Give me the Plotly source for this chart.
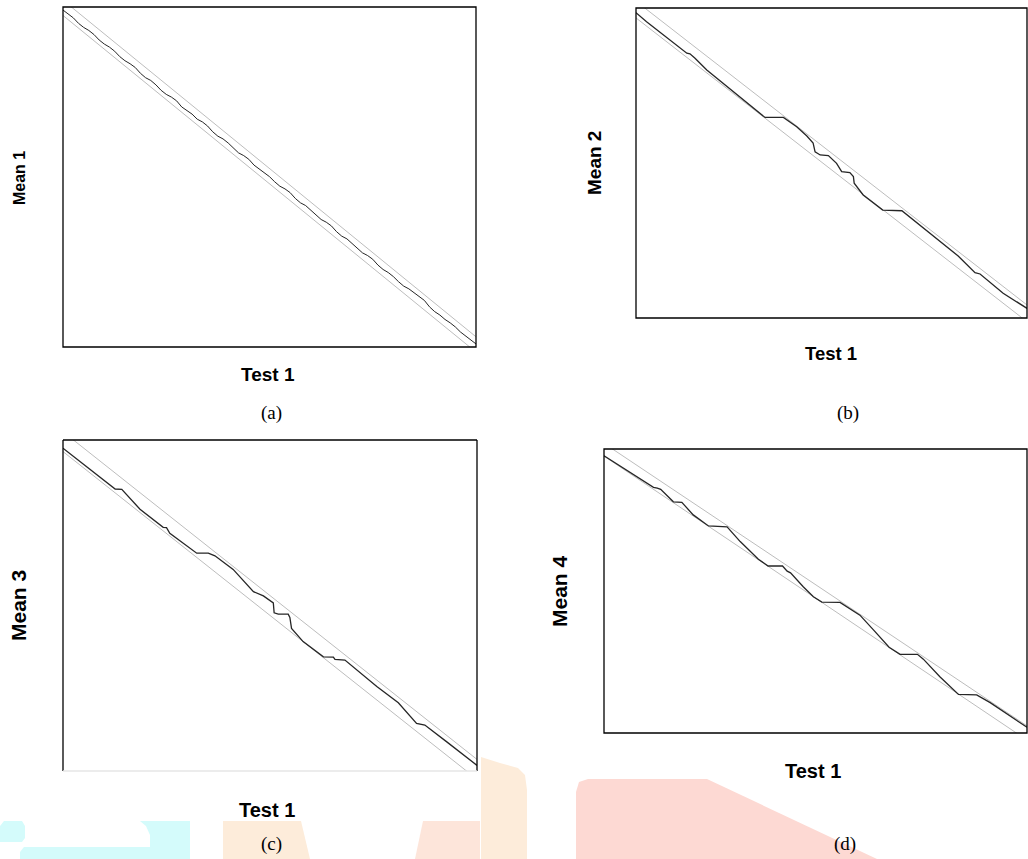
import plotly.graph_objects as go

W, H = 1028, 859

# ---------------- data (normalised Test 1 / Mean values, 0..1) ----------------
a_x = [0.0, 0.0125, 0.025, 0.0375, 0.05, 0.0625, 0.075, 0.0875, 0.1, 0.1125, 0.125, 0.1375,
       0.15, 0.1625, 0.175, 0.1875, 0.2, 0.2125, 0.225, 0.2375, 0.25, 0.2625, 0.275, 0.2875,
       0.3, 0.3125, 0.325, 0.3375, 0.35, 0.3625, 0.375, 0.3875, 0.4, 0.4125, 0.425, 0.4375,
       0.45, 0.4625, 0.475, 0.4875, 0.5, 0.5125, 0.525, 0.5375, 0.55, 0.5625, 0.575, 0.5875,
       0.6, 0.6125, 0.625, 0.6375, 0.65, 0.6625, 0.675, 0.6875, 0.7, 0.7125, 0.725, 0.7375,
       0.75, 0.7625, 0.775, 0.7875, 0.8, 0.8125, 0.825, 0.8375, 0.85, 0.8625, 0.875, 0.8875,
       0.9, 0.9125, 0.925, 0.9375, 0.95, 0.9625, 0.975, 0.9875, 1.0]
a_y = [0.991, 0.980, 0.968, 0.952, 0.940, 0.931, 0.919, 0.903, 0.891, 0.882, 0.870, 0.854,
       0.842, 0.833, 0.822, 0.805, 0.792, 0.784, 0.771, 0.755, 0.743, 0.735, 0.724, 0.706,
       0.695, 0.685, 0.670, 0.662, 0.650, 0.633, 0.620, 0.612, 0.600, 0.584, 0.571, 0.563,
       0.552, 0.535, 0.524, 0.514, 0.501, 0.486, 0.473, 0.465, 0.454, 0.437, 0.424, 0.416,
       0.403, 0.388, 0.375, 0.367, 0.356, 0.339, 0.326, 0.318, 0.305, 0.290, 0.277, 0.269,
       0.258, 0.241, 0.228, 0.219, 0.207, 0.192, 0.179, 0.171, 0.160, 0.149, 0.137, 0.118,
       0.104, 0.094, 0.081, 0.071, 0.059, 0.044, 0.032, 0.022, 0.009]

b_x = [0.0, 0.027, 0.130, 0.138, 0.151, 0.181, 0.330, 0.377, 0.411, 0.437, 0.453, 0.458,
       0.471, 0.492, 0.513, 0.526, 0.547, 0.556, 0.558, 0.581, 0.631, 0.680, 0.824, 0.867,
       0.880, 0.939, 1.0]
b_y = [0.985, 0.956, 0.854, 0.852, 0.838, 0.800, 0.647, 0.647, 0.617, 0.587, 0.564, 0.536,
       0.526, 0.524, 0.499, 0.472, 0.469, 0.456, 0.435, 0.397, 0.348, 0.346, 0.200, 0.146,
       0.142, 0.080, 0.031]

c_x = [0.0, 0.069, 0.126, 0.142, 0.186, 0.242, 0.250, 0.258, 0.323, 0.351, 0.367, 0.411,
       0.460, 0.484, 0.508, 0.510, 0.520, 0.544, 0.548, 0.552, 0.580, 0.629, 0.653, 0.657,
       0.681, 0.758, 0.810, 0.854, 0.874, 0.927, 1.0]
c_y = [0.975, 0.909, 0.852, 0.851, 0.791, 0.736, 0.735, 0.718, 0.658, 0.658, 0.650, 0.609,
       0.542, 0.529, 0.508, 0.478, 0.474, 0.474, 0.464, 0.431, 0.391, 0.345, 0.344, 0.337,
       0.335, 0.255, 0.206, 0.144, 0.139, 0.088, 0.017]

d_x = [0.0, 0.117, 0.126, 0.134, 0.164, 0.184, 0.211, 0.247, 0.291, 0.322, 0.365, 0.388,
       0.422, 0.433, 0.441, 0.471, 0.495, 0.515, 0.558, 0.586, 0.605, 0.637, 0.674, 0.700,
       0.741, 0.755, 0.794, 0.838, 0.881, 0.913, 1.0]
d_y = [0.976, 0.865, 0.862, 0.858, 0.814, 0.812, 0.768, 0.729, 0.726, 0.674, 0.612, 0.588,
       0.588, 0.570, 0.564, 0.515, 0.480, 0.461, 0.460, 0.433, 0.415, 0.363, 0.302, 0.277,
       0.277, 0.260, 0.198, 0.136, 0.134, 0.107, 0.020]

# band lines: (intercept, slope) of upper and lower reference lines
a_band = [(1.020, -0.99), (0.975, -0.99)]
b_band = [(1.022, -0.98), (0.968, -0.98)]
c_band = [(1.025, -0.99), (0.965, -0.99)]
d_band = [(1.020, -0.995), (0.975, -1.0)]

y_labels = ["Mean 1", "Mean 2", "Mean 3", "Mean 4"]
x_label = "Test 1"
captions = ["(a)", "(b)", "(c)", "(d)"]

# ---------------- layout (pixel boxes) ----------------
boxes = [(63, 7, 476, 347), (636, 8, 1027, 318), (63, 440, 477, 771), (604, 449, 1027, 733)]
path_width = [1.0, 1.3, 1.3, 1.3]

def px(x):
    return x / W

def py(y):
    return 1 - y / H

fig = go.Figure()
panels = [(a_x, a_y, a_band), (b_x, b_y, b_band), (c_x, c_y, c_band), (d_x, d_y, d_band)]
shapes = []
for i, ((xs, ys, band), box) in enumerate(zip(panels, boxes)):
    n = "" if i == 0 else str(i + 1)
    xa, ya = "x" + n, "y" + n
    for (b0, m) in band:
        ex = [-0.05, 1.05]
        fig.add_trace(go.Scatter(x=ex, y=[b0 + m * e for e in ex], mode="lines",
                                 line=dict(color="#bdbdbd", width=1), xaxis=xa, yaxis=ya,
                                 showlegend=False, hoverinfo="skip"))
    fig.add_trace(go.Scatter(x=xs, y=ys, mode="lines",
                             line=dict(color="#262626", width=path_width[i]),
                             xaxis=xa, yaxis=ya, showlegend=False))
    l, t, r, b = box
    axd = dict(domain=[px(l), px(r)], range=[0, 1], visible=False, fixedrange=True)
    ayd = dict(domain=[py(b), py(t)], range=[0, 1], visible=False, fixedrange=True)
    fig.update_layout(**{("xaxis" + n): dict(axd, anchor=ya), ("yaxis" + n): dict(ayd, anchor=xa)})
    dref = dict(xref=xa + " domain", yref=ya + " domain")
    if i == 2:
        shapes.append(dict(type="line", x0=0, x1=0, y0=0, y1=1, line=dict(color="black", width=1.3), **dref))
        shapes.append(dict(type="line", x0=1, x1=1, y0=0, y1=1, line=dict(color="black", width=1.3), **dref))
        shapes.append(dict(type="line", x0=0, x1=1, y0=1, y1=1, line=dict(color="black", width=1.3), **dref))
        shapes.append(dict(type="line", x0=0, x1=1, y0=0, y1=0, line=dict(color="#e6e6e6", width=1.3), **dref))
    else:
        shapes.append(dict(type="rect", x0=0, x1=1, y0=0, y1=1, line=dict(color="black", width=1.3), **dref))

# background watermark blobs (pixel polygons)
def poly(points, color):
    d = "M " + " L ".join(f"{px(x):.5f},{py(y):.5f}" for x, y in points) + " Z"
    return dict(type="path", path=d, xref="paper", yref="paper", fillcolor=color,
                line=dict(width=0), layer="below")

shapes += [
    poly([(0, 826), (4, 821), (22, 821), (25, 826), (25, 838), (22, 842), (0, 842)], "#d4fbfb"),
    poly([(20, 852), (24, 847), (190, 847), (190, 859), (20, 859)], "#d4fbfb"),
    poly([(140, 821), (190, 821), (190, 859), (150, 859), (150, 835), (146, 826)], "#d4fbfb"),
    poly([(223, 821), (301, 821), (310, 859), (223, 859)], "#fdecda"),
    poly([(423, 821), (480, 821), (480, 859), (415, 859)], "#fde5da"),
    poly([(481, 757), (500, 763), (518, 768), (525, 775), (527, 790), (527, 859), (481, 859)], "#fdecda"),
    poly([(576, 859), (576, 792), (579, 782), (588, 779), (707, 779), (877, 859)], "#fdd9d3"),
]

# text
ann = []
bold = dict(family="Liberation Sans, Arial, sans-serif", color="black")
serif = dict(family="Liberation Serif, Times New Roman, serif", color="black", size=19)
ylab_pos = [(19, 178, 16), (595, 163, 19), (18, 606, 21), (559, 591, 21)]
xlab_pos = [(268, 374, 19), (831, 353, 18.5), (267, 810, 20), (813, 771, 20)]
cap_pos = [(271, 413), (848, 413), (271, 844), (845, 844)]
for i in range(4):
    x, y, s = ylab_pos[i]
    ann.append(dict(x=px(x), y=py(y), xref="paper", yref="paper", text="<b>" + y_labels[i] + "</b>",
                    textangle=-90, showarrow=False, font=dict(bold, size=s), xanchor="center", yanchor="middle"))
    x, y, s = xlab_pos[i]
    ann.append(dict(x=px(x), y=py(y), xref="paper", yref="paper", text="<b>" + x_label + "</b>",
                    showarrow=False, font=dict(bold, size=s), xanchor="center", yanchor="middle"))
    x, y = cap_pos[i]
    ann.append(dict(x=px(x), y=py(y), xref="paper", yref="paper", text=captions[i],
                    showarrow=False, font=serif, xanchor="center", yanchor="middle"))

fig.update_layout(width=W, height=H, margin=dict(l=0, r=0, t=0, b=0), autosize=False,
                  paper_bgcolor="white", plot_bgcolor="rgba(0,0,0,0)", shapes=shapes,
                  annotations=ann, showlegend=False)

fig.write_html("out.html", config={"displayModeBar": False},
               post_script="document.body.style.margin='0';")
